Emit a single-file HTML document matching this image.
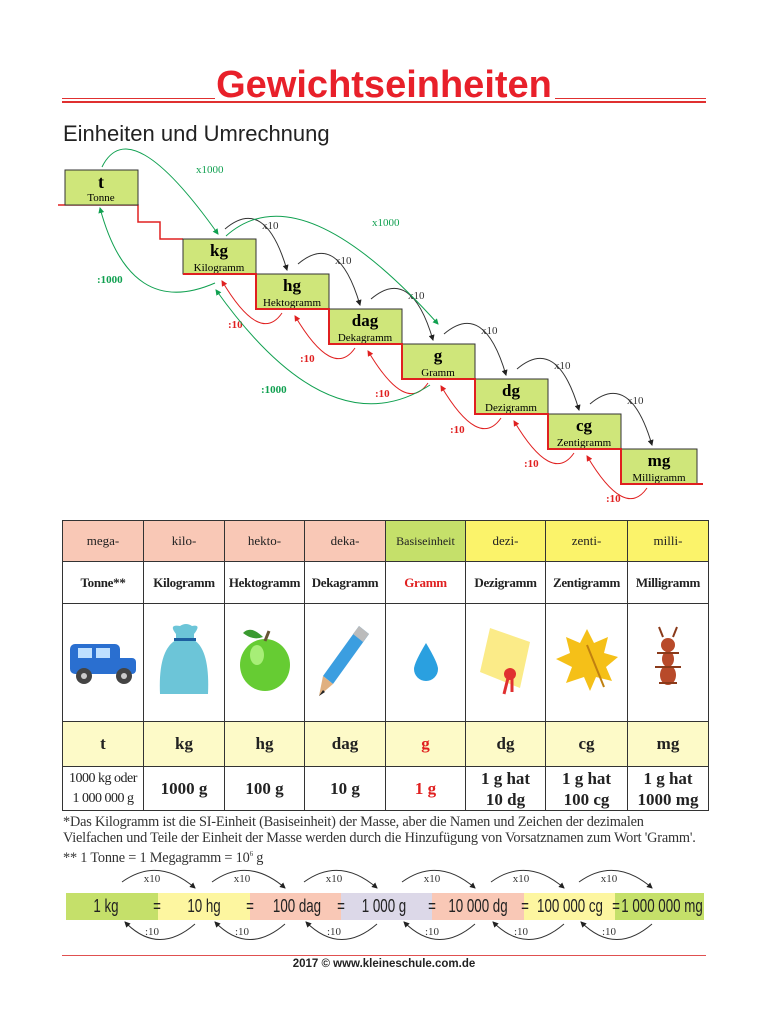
<!DOCTYPE html>
<html><head><meta charset="utf-8"><style>
body{margin:0;width:768px;height:1024px;background:#fff;position:relative;overflow:hidden;font-family:"Liberation Serif",serif}
.a{position:absolute}
table{position:absolute;left:62px;top:520px;border-collapse:collapse;table-layout:fixed}
td{border:1.5px solid #333;text-align:center;padding:0;font-family:"Liberation Serif",serif;color:#222}
.h td{height:40px;font-size:13px}
.n td{height:41px;font-size:13px;font-weight:bold;letter-spacing:-0.3px}
.i td{height:117px}
.s td{height:44px;font-size:17px;font-weight:bold;background:#fdfac8}
.v td{height:43px;font-size:17px;font-weight:bold;line-height:21px}
.bar{position:absolute;top:893px;width:140px;margin-left:-70px;text-align:center;height:27px;font-family:"Liberation Sans",sans-serif;font-size:18px;line-height:27px;color:#222;transform:scaleX(0.74)}
</style></head><body>
<div class="a" style="left:0;width:768px;top:64px;text-align:center;font-family:'Liberation Sans',sans-serif;font-weight:bold;font-size:38px;color:#e8202a">Gewichtseinheiten</div>
<div class="a" style="left:62px;top:98px;width:153px;height:1px;background:#e03030"></div>
<div class="a" style="left:555px;top:98px;width:151px;height:1px;background:#e03030"></div>
<div class="a" style="left:62px;top:101px;width:644px;height:2px;background:#e03030"></div>
<div class="a" style="left:63px;top:121px;font-family:'Liberation Sans',sans-serif;font-size:22px;color:#222">Einheiten und Umrechnung</div>

<svg class="a" style="left:0;top:0" width="768" height="520" font-family="Liberation Serif,serif">
<defs>
<marker id="k" markerWidth="6" markerHeight="6" refX="5" refY="3" orient="auto"><path d="M0,0L6,3L0,6z" fill="#222"/></marker>
<marker id="r" markerWidth="6" markerHeight="6" refX="5" refY="3" orient="auto"><path d="M0,0L6,3L0,6z" fill="#e02020"/></marker>
<marker id="g" markerWidth="6" markerHeight="6" refX="5" refY="3" orient="auto"><path d="M0,0L6,3L0,6z" fill="#10a050"/></marker>
</defs>
<path d="M58,205H138V222H160V239H183" stroke="#e02020" stroke-width="1.5" fill="none"/>
<rect x="65" y="170" width="73" height="35" fill="#cfe67a" stroke="#333"/>
<text x="101" y="188" text-anchor="middle" font-size="18" font-weight="bold">t</text>
<text x="101" y="201" text-anchor="middle" font-size="11">Tonne</text>
<rect x="183" y="239" width="73" height="35" fill="#cfe67a" stroke="#333"/><text x="219" y="256" text-anchor="middle" font-size="17" font-weight="bold">kg</text><text x="219" y="271" text-anchor="middle" font-size="11">Kilogramm</text>
<rect x="256" y="274" width="73" height="35" fill="#cfe67a" stroke="#333"/><text x="292" y="291" text-anchor="middle" font-size="17" font-weight="bold">hg</text><text x="292" y="306" text-anchor="middle" font-size="11">Hektogramm</text>
<rect x="329" y="309" width="73" height="35" fill="#cfe67a" stroke="#333"/><text x="365" y="326" text-anchor="middle" font-size="17" font-weight="bold">dag</text><text x="365" y="341" text-anchor="middle" font-size="11">Dekagramm</text>
<rect x="402" y="344" width="73" height="35" fill="#cfe67a" stroke="#333"/><text x="438" y="361" text-anchor="middle" font-size="17" font-weight="bold">g</text><text x="438" y="376" text-anchor="middle" font-size="11">Gramm</text>
<rect x="475" y="379" width="73" height="35" fill="#cfe67a" stroke="#333"/><text x="511" y="396" text-anchor="middle" font-size="17" font-weight="bold">dg</text><text x="511" y="411" text-anchor="middle" font-size="11">Dezigramm</text>
<rect x="548" y="414" width="73" height="35" fill="#cfe67a" stroke="#333"/><text x="584" y="431" text-anchor="middle" font-size="17" font-weight="bold">cg</text><text x="584" y="446" text-anchor="middle" font-size="11">Zentigramm</text>
<rect x="621" y="449" width="76" height="35" fill="#cfe67a" stroke="#333"/><text x="659" y="466" text-anchor="middle" font-size="17" font-weight="bold">mg</text><text x="659" y="481" text-anchor="middle" font-size="11">Milligramm</text>
<path d="M183,274H256V309H329V344H402V379H475V414H548V449H621V484H703" stroke="#e02020" stroke-width="2" fill="none"/>
<g fill="none" stroke="#333" stroke-width="1" marker-end="url(#k)">
<path d="M225,229Q265,195 287,270"/><path d="M298,264Q338,230 360,305"/><path d="M371,299Q411,265 433,340"/><path d="M444,334Q484,300 506,375"/><path d="M517,369Q557,335 579,410"/><path d="M590,404Q630,370 652,445"/>
</g>
<g font-size="11" fill="#333"><text x="262" y="229">x10</text><text x="335" y="264">x10</text><text x="408" y="299">x10</text><text x="481" y="334">x10</text><text x="554" y="369">x10</text><text x="627" y="404">x10</text></g>
<g fill="none" stroke="#e02020" stroke-width="1" marker-end="url(#r)">
<path d="M282,313Q260,345 222,281"/><path d="M355,348Q333,380 295,316"/><path d="M428,383Q406,415 368,351"/><path d="M501,418Q479,450 441,386"/><path d="M574,453Q552,485 514,421"/><path d="M647,488Q625,520 587,456"/>
</g>
<g font-size="11" fill="#e02020" font-weight="bold"><text x="228" y="328">:10</text><text x="300" y="362">:10</text><text x="375" y="397">:10</text><text x="450" y="433">:10</text><text x="524" y="467">:10</text><text x="606" y="502">:10</text></g>
<g fill="none" stroke="#10a050" stroke-width="1" marker-end="url(#g)">
<path d="M102,167Q130,110 218,234"/>
<path d="M226,236Q300,170 438,324"/>
<path d="M215,283Q130,320 100,208"/>
<path d="M430,385Q330,450 216,290"/>
</g>
<g font-size="11" fill="#10a050"><text x="196" y="173">x1000</text><text x="372" y="226">x1000</text><text x="97" y="283" font-weight="bold">:1000</text><text x="261" y="393" font-weight="bold">:1000</text></g>
</svg>

<table>
<colgroup><col width="81"><col width="81"><col width="80"><col width="81"><col width="80"><col width="80"><col width="82"><col width="81"></colgroup>
<tr class="h"><td style="background:#f9c8b6">mega-</td><td style="background:#f9c8b6">kilo-</td><td style="background:#f9c8b6">hekto-</td><td style="background:#f9c8b6">deka-</td><td style="background:#c5e06a;font-size:12px">Basiseinheit</td><td style="background:#fbf36a">dezi-</td><td style="background:#fbf36a">zenti-</td><td style="background:#fbf36a">milli-</td></tr>
<tr class="n"><td>Tonne**</td><td>Kilogramm</td><td>Hektogramm</td><td>Dekagramm</td><td style="color:#e02020">Gramm</td><td>Dezigramm</td><td>Zentigramm</td><td>Milligramm</td></tr>
<tr class="i">
<td><svg width="78" height="60"><rect x="6" y="14" width="50" height="30" rx="5" fill="#2a6fd0"/><rect x="14" y="18" width="14" height="10" fill="#bfe0ff"/><rect x="32" y="18" width="14" height="10" fill="#bfe0ff"/><rect x="50" y="28" width="22" height="16" rx="4" fill="#2a6fd0"/><circle cx="20" cy="46" r="8" fill="#444"/><circle cx="60" cy="46" r="8" fill="#444"/><circle cx="20" cy="46" r="3" fill="#ccc"/><circle cx="60" cy="46" r="3" fill="#ccc"/></svg></td>
<td><svg width="60" height="80"><path d="M22,14Q14,4 26,6Q32,2 38,6Q48,4 40,14L40,20Q56,30 54,74L6,74Q4,30 22,20Z" fill="#6cc5d8"/><rect x="20" y="18" width="22" height="3" fill="#1d5fa0"/></svg></td>
<td><svg width="60" height="70"><ellipse cx="30" cy="40" rx="25" ry="26" fill="#66cc33"/><ellipse cx="22" cy="30" rx="7" ry="10" fill="#a7ee77"/><path d="M30,16L34,6" stroke="#653" stroke-width="3"/><path d="M28,12Q16,0 8,8Q18,16 28,12" fill="#3a9a30"/></svg></td>
<td><svg width="60" height="80"><path d="M44,6L54,14L18,64L8,56Z" fill="#3b9ee0"/><path d="M44,6L54,14L48,22L38,14Z" fill="#bbb"/><path d="M8,56L18,64L4,76Z" fill="#e0b080"/><path d="M4,76L8,70L10,72Z" fill="#222"/></svg></td>
<td><svg width="40" height="50"><path d="M20,8Q8,28 8,34A12,12 0 0 0 32,34Q32,28 20,8Z" fill="#2aa0e0"/></svg></td>
<td><svg width="60" height="80"><path d="M14,8L54,22L44,68L4,52Z" fill="#fbeb88"/><circle cx="34" cy="54" r="6" fill="#e03030"/><path d="M32,58L28,74M36,58L36,72" stroke="#e03030" stroke-width="3"/></svg></td>
<td><svg width="66" height="70"><path d="M33,4L40,18L54,12L50,28L64,32L52,42L58,56L42,52L36,66L30,52L12,58L18,42L2,34L16,28L12,12L26,18Z" fill="#f5c018"/><path d="M33,20L50,62" stroke="#c08010" stroke-width="2"/></svg></td>
<td><svg width="50" height="70"><ellipse cx="25" cy="20" rx="7" ry="7" fill="#b84a2a"/><ellipse cx="25" cy="34" rx="6" ry="8" fill="#b84a2a"/><ellipse cx="25" cy="50" rx="8" ry="10" fill="#b84a2a"/><path d="M14,28L36,28M12,42L38,42M16,58L34,58M20,12L16,2M30,12L34,2" stroke="#8a3a1a" stroke-width="2"/></svg></td>
</tr>
<tr class="s"><td>t</td><td>kg</td><td>hg</td><td>dag</td><td style="color:#e02020">g</td><td>dg</td><td>cg</td><td>mg</td></tr>
<tr class="v"><td style="font-size:14px;font-weight:normal;line-height:20px;letter-spacing:-0.5px">1000 kg oder<br>1 000 000 g</td><td>1000 g</td><td>100 g</td><td>10 g</td><td style="color:#e02020">1 g</td><td>1 g hat<br>10 dg</td><td>1 g hat<br>100 cg</td><td>1 g hat<br>1000 mg</td></tr>
</table>

<div class="a" style="left:63px;top:814px;font-size:14.3px;line-height:16px;color:#333;letter-spacing:-0.2px;white-space:nowrap">*Das Kilogramm ist die SI-Einheit (Basiseinheit) der Masse, aber die Namen und Zeichen der dezimalen<br>Vielfachen und Teile der Einheit der Masse werden durch die Hinzufügung von Vorsatznamen zum Wort 'Gramm'.<br>** 1 Tonne = 1 Megagramm = 10<sup style="font-size:7px">6</sup> g</div>

<div class="a" style="left:66px;top:893px;width:92px;height:27px;background:#c5e06a"></div>
<div class="a" style="left:158px;top:893px;width:92px;height:27px;background:#fdf6a0"></div>
<div class="a" style="left:250px;top:893px;width:91px;height:27px;background:#f9c8b6"></div>
<div class="a" style="left:341px;top:893px;width:91px;height:27px;background:#dcd8e8"></div>
<div class="a" style="left:432px;top:893px;width:92px;height:27px;background:#f9c8b6"></div>
<div class="a" style="left:524px;top:893px;width:91px;height:27px;background:#fdf6a0"></div>
<div class="a" style="left:615px;top:893px;width:89px;height:27px;background:#c5e06a"></div>
<div class="bar" style="left:106px">1 kg</div>
<div class="bar" style="left:157px">=</div>
<div class="bar" style="left:204px">10 hg</div>
<div class="bar" style="left:250px">=</div>
<div class="bar" style="left:297px">100 dag</div>
<div class="bar" style="left:341px">=</div>
<div class="bar" style="left:384px">1 000 g</div>
<div class="bar" style="left:432px">=</div>
<div class="bar" style="left:478px">10 000 dg</div>
<div class="bar" style="left:525px">=</div>
<div class="bar" style="left:570px">100 000 cg</div>
<div class="bar" style="left:616px">=</div>
<div class="bar" style="left:662px">1 000 000 mg</div>
<svg class="a" style="left:0;top:860px" width="768" height="100" font-family="Liberation Serif,serif">
<defs><marker id="k2" markerWidth="6" markerHeight="6" refX="5" refY="3" orient="auto"><path d="M0,0L6,3L0,6z" fill="#222"/></marker></defs>
<g fill="none" stroke="#333" marker-end="url(#k2)">
<path d="M122,22Q158,-4 195,28"/><path d="M212,22Q248,-4 285,28"/><path d="M304,22Q340,-4 377,28"/><path d="M402,22Q438,-4 475,28"/><path d="M491,22Q527,-4 564,28"/><path d="M579,22Q615,-4 652,28"/>
<path d="M195,64Q158,96 125,62"/><path d="M285,64Q248,96 215,62"/><path d="M377,64Q340,96 306,62"/><path d="M475,64Q438,96 404,62"/><path d="M564,64Q527,96 493,62"/><path d="M652,64Q615,96 581,62"/>
</g>
<g font-size="11" fill="#333" text-anchor="middle"><text x="152" y="22">x10</text><text x="242" y="22">x10</text><text x="334" y="22">x10</text><text x="432" y="22">x10</text><text x="521" y="22">x10</text><text x="609" y="22">x10</text>
<text x="152" y="75">:10</text><text x="242" y="75">:10</text><text x="334" y="75">:10</text><text x="432" y="75">:10</text><text x="521" y="75">:10</text><text x="609" y="75">:10</text></g>
</svg>
<div class="a" style="left:62px;top:955px;width:644px;height:1px;background:#e05050"></div>
<div class="a" style="left:0;width:768px;top:958px;text-align:center;font-family:'Liberation Sans',sans-serif;font-weight:bold;font-size:11.5px;color:#222">2017 © www.kleineschule.com.de</div>
</body></html>
